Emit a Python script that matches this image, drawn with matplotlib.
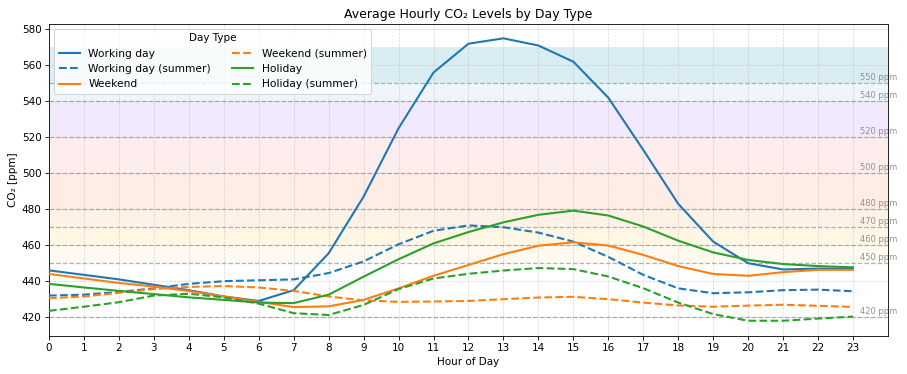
import matplotlib
matplotlib.use("Agg")
import matplotlib.pyplot as plt

hours = list(range(24))

working_day = [446, 443.5, 441, 438, 435, 431.5, 429, 435, 455.5, 487, 525, 556,
               572, 575, 571, 562, 542, 513, 483, 462, 450, 446.5, 447, 447]
working_day_summer = [432, 432.5, 434, 436, 438.5, 440, 440.5, 441, 444.5, 451, 460.5, 468,
                      471, 470, 467, 462, 453.5, 443.5, 436, 433.3, 433.8, 435, 435.3, 434.4]
weekend = [444, 441.5, 439, 437, 434.5, 431.5, 428.5, 425.6, 426, 429.6, 436, 443,
           449, 455, 459.7, 461.6, 459.8, 454.6, 448.4, 444, 443, 445, 446.3, 446.3]
weekend_summer = [430.5, 431.5, 433.5, 435.6, 436.8, 437.3, 436.5, 434.6, 431.5, 429.3, 428.5, 428.7,
                  429, 430, 430.9, 431.3, 430, 428.1, 426.5, 425.8, 426.4, 426.9, 426.3, 425.7]
holiday = [438.5, 436.5, 434.6, 432.8, 431, 429.6, 428.1, 427.8, 432.5, 442.5, 452.2, 461,
           467.3, 472.7, 476.9, 479.2, 476.5, 470.4, 462.5, 456, 451.8, 449.5, 448.4, 447.7]
holiday_summer = [423.5, 425.8, 428.3, 432, 433, 431, 427.5, 422.2, 421.2, 426.8, 435.6, 441.5,
                  444.1, 445.9, 447.3, 446.7, 442.6, 436.1, 428.1, 421.7, 418, 418, 419.2, 420.3]

series = [
    ("Working day", working_day, "#1f77b4", "-"),
    ("Working day (summer)", working_day_summer, "#1f77b4", "--"),
    ("Weekend", weekend, "#ff7f0e", "-"),
    ("Weekend (summer)", weekend_summer, "#ff7f0e", "--"),
    ("Holiday", holiday, "#2ca02c", "-"),
    ("Holiday (summer)", holiday_summer, "#2ca02c", "--"),
]

# background bands (low, high, colour, alpha)
bands = [
    (450, 460, "#fff3d6", 0.35),
    (460, 470, "#ffecc4", 0.45),
    (470, 480, "#fde0c8", 0.45),
    (480, 500, "#fcd9c4", 0.45),
    (500, 520, "#fbd3d3", 0.4),
    (520, 540, "#e3c8f8", 0.4),
    (540, 550, "#cfe8f5", 0.35),
    (550, 570, "#add8e6", 0.45),
]
thresholds = [420, 450, 460, 470, 480, 500, 520, 540, 550]

fig = plt.figure(figsize=(907 / 75, 374 / 75), dpi=75)
ax = fig.add_axes([0.054, 0.102, 0.925, 0.834])

for lo, hi, col, a in bands:
    ax.axhspan(lo, hi, color=col, alpha=a, lw=0, zorder=0)

for t in thresholds:
    ax.axhline(t, color="gray", ls="--", lw=1.2, alpha=0.6, zorder=1)
    ax.text(23.2, t + 0.5, f"{t} ppm", color="gray", fontsize=8, alpha=0.85,
            ha="left", va="bottom", zorder=2)

for name, vals, col, ls in series:
    ax.plot(hours, vals, color=col, ls=ls, lw=2, label=name, zorder=3)

ax.set_xlim(0, 24)
ax.set_ylim(409.6, 583)
ax.set_xticks(hours)
ax.grid(True, ls="--", color="#bbbbbb", alpha=0.6, lw=0.7)
ax.set_axisbelow(True)

ax.set_title("Average Hourly CO₂ Levels by Day Type")
ax.set_xlabel("Hour of Day")
ax.set_ylabel("CO₂ [ppm]")
ax.legend(title="Day Type", ncol=2, loc="upper left", fontsize=10.2)

fig.savefig("out.png", dpi=75)
